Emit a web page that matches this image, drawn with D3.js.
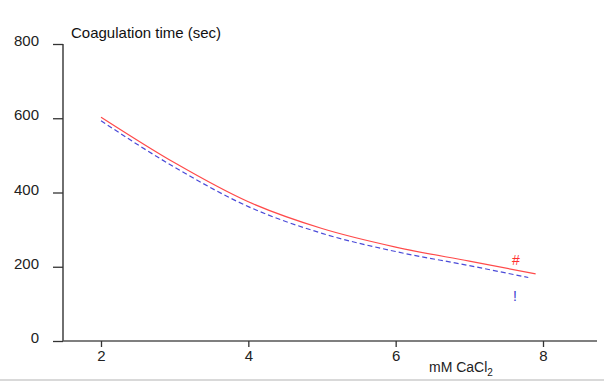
<!DOCTYPE html>
<html><head><meta charset="utf-8">
<script src="https://cdn.jsdelivr.net/npm/d3@7"></script>
<style>body{margin:0;background:#fff}svg{display:block}text{font-family:"Liberation Sans",Arial,sans-serif}</style>
</head><body><svg id="c" width="604" height="382"></svg>
<script>
const xTicks = [2, 4, 6, 8];
const yTicks = [0, 200, 400, 600, 800];
const redX = [2, 3, 4, 5, 6, 7, 7.9];
const redY = [603, 480, 375, 303, 253, 215, 181];
const blueX = [2, 3, 4, 5, 6, 7, 7.8];
const blueY = [593, 468, 362, 290, 241, 203, 171];
const yTitle = "Coagulation time (sec)";
const markRed = "#", markBlue = "!";

const svg = d3.select("#c");
const x = d3.scaleLinear().domain([2, 8]).range([101, 543]);
const y = d3.scaleLinear().domain([0, 800]).range([341, 44]);
const x0 = 63, xEnd = 597;

// y axis
const ya = svg.append("g").attr("transform", `translate(${x0},0)`)
  .call(d3.axisLeft(y).tickValues(yTicks).tickFormat(d3.format("d")).tickSize(10).tickPadding(14));
ya.attr("font-size", null).attr("font-family", null);
ya.select(".domain").attr("d", `M0,${y(800)}V${y(0)}`).attr("stroke", "#222").attr("stroke-width", 1.3);
ya.selectAll(".tick line").attr("stroke", "#333").attr("stroke-width", 1.3);
ya.selectAll(".tick text").style("font-size", "15px").attr("fill", "#222").attr("dy", "0.1em");

// x axis
const xa = svg.append("g").attr("transform", `translate(0,${y(0)})`)
  .call(d3.axisBottom(x).tickValues(xTicks).tickFormat(d3.format("d")).tickSize(6).tickPadding(3));
xa.attr("font-size", null).attr("font-family", null);
xa.select(".domain").attr("d", `M${x0},0H${xEnd}`).attr("stroke", "#555").attr("stroke-width", 1.3);
xa.selectAll(".tick line").attr("stroke", "#333").attr("stroke-width", 1.3);
xa.selectAll(".tick text").style("font-size", "15px").attr("fill", "#222");

const line = d3.line().x(d => x(d[0])).y(d => y(d[1])).curve(d3.curveMonotoneX);
svg.append("path").datum(redX.map((v, i) => [v, redY[i]]))
  .attr("d", line).attr("fill", "none").attr("stroke", "#ff4a4a").attr("stroke-width", 1.2);
svg.append("path").datum(blueX.map((v, i) => [v, blueY[i]]))
  .attr("d", line).attr("fill", "none").attr("stroke", "#4a4ad8").attr("stroke-width", 1.2)
  .attr("stroke-dasharray", "5,3");

svg.append("text").attr("x", 71).attr("y", 38).style("font-size", "15px").attr("fill", "#111").text(yTitle);
svg.append("text").attr("x", 516).attr("y", 265).attr("text-anchor", "middle").style("font-size", "14px").attr("fill", "#ff3030").text(markRed);
svg.append("text").attr("x", 515).attr("y", 301).attr("text-anchor", "middle").style("font-size", "14px").attr("fill", "#3a3ad0").text(markBlue);

const xl = svg.append("text").attr("x", 429).attr("y", 372).style("font-size", "14px").attr("fill", "#222");
xl.append("tspan").text("mM CaCl");
xl.append("tspan").attr("dy", 4).style("font-size", "10px").text("2");

svg.append("line").attr("x1", 0).attr("x2", 604).attr("y1", 380).attr("y2", 380).attr("stroke", "#ccc").attr("stroke-width", 1.5);
</script></body></html>
